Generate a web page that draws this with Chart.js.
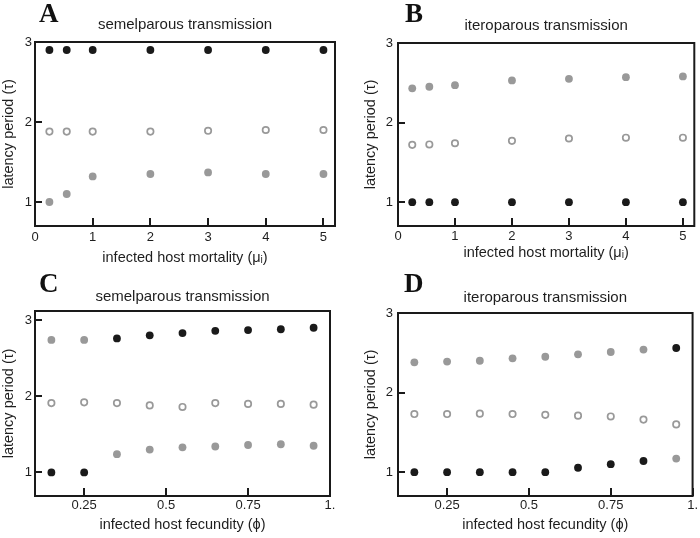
<!DOCTYPE html>
<html><head><meta charset="utf-8">
<script src="https://cdn.jsdelivr.net/npm/chart.js@4.4.1/dist/chart.umd.min.js"></script>
<style>
html,body{margin:0;padding:0;background:#fff;}
#wrap{position:relative;width:700px;height:538px;overflow:hidden;}
.p{position:absolute;width:350px;height:269px;}
.p canvas{display:block;}
</style></head><body>
<div id="wrap">
<div class="p" style="left:0;top:0"><canvas id="cA" width="350" height="269"></canvas></div>
<div class="p" style="left:350px;top:0"><canvas id="cB" width="350" height="269"></canvas></div>
<div class="p" style="left:0;top:269px"><canvas id="cC" width="350" height="269"></canvas></div>
<div class="p" style="left:350px;top:269px"><canvas id="cD" width="350" height="269"></canvas></div>
</div>
<script>
// ---- data ----
const mortalityX = [0.25, 0.55, 1, 2, 3, 4, 5];
const fecundityX = [0.15, 0.25, 0.35, 0.45, 0.55, 0.65, 0.75, 0.85, 0.95];
const mortalityTicks = [0, 1, 2, 3, 4, 5];
const mortalityTickLabels = ['0', '1', '2', '3', '4', '5'];
const fecundityTicks = [0.25, 0.5, 0.75, 1];
const fecundityTickLabels = ['0.25', '0.5', '0.75', '1.'];
const latencyTicks = [1, 2, 3];
const latencyTickLabels = ['1', '2', '3'];

const aBlack = [2.90, 2.90, 2.90, 2.90, 2.90, 2.90, 2.90];
const aOpen  = [1.88, 1.88, 1.88, 1.88, 1.89, 1.90, 1.90];
const aGray  = [1.00, 1.10, 1.32, 1.35, 1.37, 1.35, 1.35];

const bGray  = [2.43, 2.45, 2.47, 2.53, 2.55, 2.57, 2.58];
const bOpen  = [1.72, 1.725, 1.74, 1.77, 1.80, 1.81, 1.81];
const bBlack = [1.00, 1.00, 1.00, 1.00, 1.00, 1.00, 1.00];

const cBlack = [1.00, 1.00, 2.76, 2.80, 2.83, 2.86, 2.87, 2.88, 2.90];
const cGray  = [2.74, 2.74, 1.24, 1.30, 1.33, 1.34, 1.36, 1.37, 1.35];
const cOpen  = [1.91, 1.92, 1.91, 1.88, 1.86, 1.91, 1.90, 1.90, 1.89];

const dBlack = [1.00, 1.00, 1.00, 1.00, 1.00, 1.055, 1.10, 1.14, 2.56];
const dGray  = [2.38, 2.39, 2.40, 2.43, 2.45, 2.48, 2.51, 2.54, 1.17];
const dOpen  = [1.73, 1.73, 1.735, 1.73, 1.72, 1.71, 1.70, 1.66, 1.60];

// ---- styling ----
const FONT = "'Liberation Sans', Arial, Helvetica, 'DejaVu Sans', sans-serif";
const TXT = '#1e1e1e';
const BLACK = '#1a1a1a';
const GRAY = '#999999';

function framePlugin(p) {
  return {
    id: 'frame' + p.letter,
    afterDraw(chart) {
      const ctx = chart.ctx, a = chart.chartArea;
      const xs = chart.scales.x, ys = chart.scales.y;
      ctx.save();
      ctx.strokeStyle = '#1a1a1a';
      ctx.lineWidth = 2;
      ctx.strokeRect(a.left, a.top, a.right - a.left, a.bottom - a.top);
      for (const v of latencyTicks) {
        const y = Math.round(ys.getPixelForValue(v));
        ctx.beginPath(); ctx.moveTo(a.left, y); ctx.lineTo(a.left + 7, y); ctx.stroke();
      }
      for (const v of p.xTicks) {
        const x = Math.round(xs.getPixelForValue(v));
        ctx.beginPath(); ctx.moveTo(x, a.bottom); ctx.lineTo(x, a.bottom - 8); ctx.stroke();
      }
      ctx.fillStyle = '#111';
      ctx.font = "bold 27px 'Liberation Serif', 'Times New Roman', serif";
      ctx.textBaseline = 'alphabetic';
      ctx.textAlign = 'left';
      ctx.fillText(p.letter, p.lx, p.ly);
      ctx.restore();
    }
  };
}

function pts(xs, ys) { return xs.map((x, i) => ({ x: x, y: ys[i] })); }
function labelFor(ticks, labels) {
  return v => { const i = ticks.findIndex(t => Math.abs(t - v) < 1e-9); return i >= 0 ? labels[i] : ''; };
}

function makeChart(id, p) {
  new Chart(document.getElementById(id), {
    type: 'scatter',
    data: {
      datasets: [
        { data: pts(p.xs, p.black), backgroundColor: BLACK, borderWidth: 0, pointRadius: 3.9 },
        { data: pts(p.xs, p.gray), backgroundColor: GRAY, borderWidth: 0, pointRadius: 3.9 },
        { data: pts(p.xs, p.open), backgroundColor: '#fff', borderColor: GRAY, borderWidth: 1.7, pointRadius: 3.2 }
      ]
    },
    options: {
      responsive: false,
      animation: false,
      events: [],
      layout: { padding: { left: 0, top: 0, right: p.padR, bottom: 0 } },
      plugins: {
        legend: { display: false },
        tooltip: { enabled: false },
        title: {
          display: true, text: p.title, fullSize: false, color: TXT,
          font: { family: FONT, size: 15, weight: 'normal' },
          padding: { top: p.tPadT, bottom: p.tPadB }
        }
      },
      scales: {
        x: {
          type: 'linear', min: p.xMin, max: p.xMax,
          grid: { display: false, drawTicks: false },
          border: { display: false },
          afterBuildTicks: s => { s.ticks = p.xTicks.map(v => ({ value: v })); },
          afterFit: s => { s.height = p.xH; },
          ticks: { color: TXT, font: { family: FONT, size: 13 }, padding: p.xTickPad, maxRotation: 0, autoSkip: false,
                   callback: labelFor(p.xTicks, p.xLabels) },
          title: { display: true, text: p.xTitle, color: TXT, font: { family: FONT, size: 14.5 },
                   padding: { top: 0, bottom: p.xTitlePad } }
        },
        y: {
          type: 'linear', min: p.yMin, max: p.yMax,
          grid: { display: false, drawTicks: false },
          border: { display: false },
          afterBuildTicks: s => { s.ticks = latencyTicks.map(v => ({ value: v })); },
          afterFit: s => { s.width = p.yW; },
          ticks: { color: TXT, font: { family: FONT, size: 13 }, padding: p.yTickPad, autoSkip: false,
                   callback: labelFor(latencyTicks, latencyTickLabels) },
          title: { display: true, text: 'latency period (τ)', color: TXT, font: { family: FONT, size: 14.5 },
                   padding: { top: p.yTitlePad, bottom: 0 } }
        }
      }
    },
    plugins: [framePlugin(p)]
  });
}

makeChart('cA', {
  xs: mortalityX, black: aBlack, gray: aGray, open: aOpen,
  title: 'semelparous transmission', letter: 'A', lx: 39, ly: 22,
  xMin: 0, xMax: 5.2, yMin: 0.7, yMax: 3, xTicks: mortalityTicks, xLabels: mortalityTickLabels,
  xTitle: 'infected host mortality (μᵢ)',
  padR: 15, tPadT: 16, tPadB: 8, xH: 43, yW: 35, xTickPad: 4, yTickPad: 3, xTitlePad: 2, yTitlePad: 0
});
makeChart('cB', {
  xs: mortalityX, black: bBlack, gray: bGray, open: bOpen,
  title: 'iteroparous transmission', letter: 'B', lx: 55, ly: 22,
  xMin: 0, xMax: 5.2, yMin: 0.7, yMax: 3, xTicks: mortalityTicks, xLabels: mortalityTickLabels,
  xTitle: 'infected host mortality (μᵢ)',
  padR: 2, tPadT: 17, tPadB: 8, xH: 43, yW: 48, xTickPad: 3, yTickPad: 5, xTitlePad: 7, yTitlePad: 12
});
makeChart('cC', {
  xs: fecundityX, black: cBlack, gray: cGray, open: cOpen,
  title: 'semelparous transmission', letter: 'C', lx: 39, ly: 23,
  xMin: 0.1, xMax: 1.0, yMin: 0.69, yMax: 3.12, xTicks: fecundityTicks, xLabels: fecundityTickLabels,
  xTitle: 'infected host fecundity (ϕ)',
  padR: 20, tPadT: 19, tPadB: 5, xH: 42, yW: 35, xTickPad: 2, yTickPad: 3, xTitlePad: 4, yTitlePad: 0
});
makeChart('cD', {
  xs: fecundityX, black: dBlack, gray: dGray, open: dOpen,
  title: 'iteroparous transmission', letter: 'D', lx: 54, ly: 23,
  xMin: 0.1, xMax: 1.0, yMin: 0.7, yMax: 3, xTicks: fecundityTicks, xLabels: fecundityTickLabels,
  xTitle: 'infected host fecundity (ϕ)',
  padR: 7, tPadT: 20, tPadB: 6, xH: 42, yW: 48, xTickPad: 2, yTickPad: 5, xTitlePad: 4, yTitlePad: 12
});
</script>
</body></html>
